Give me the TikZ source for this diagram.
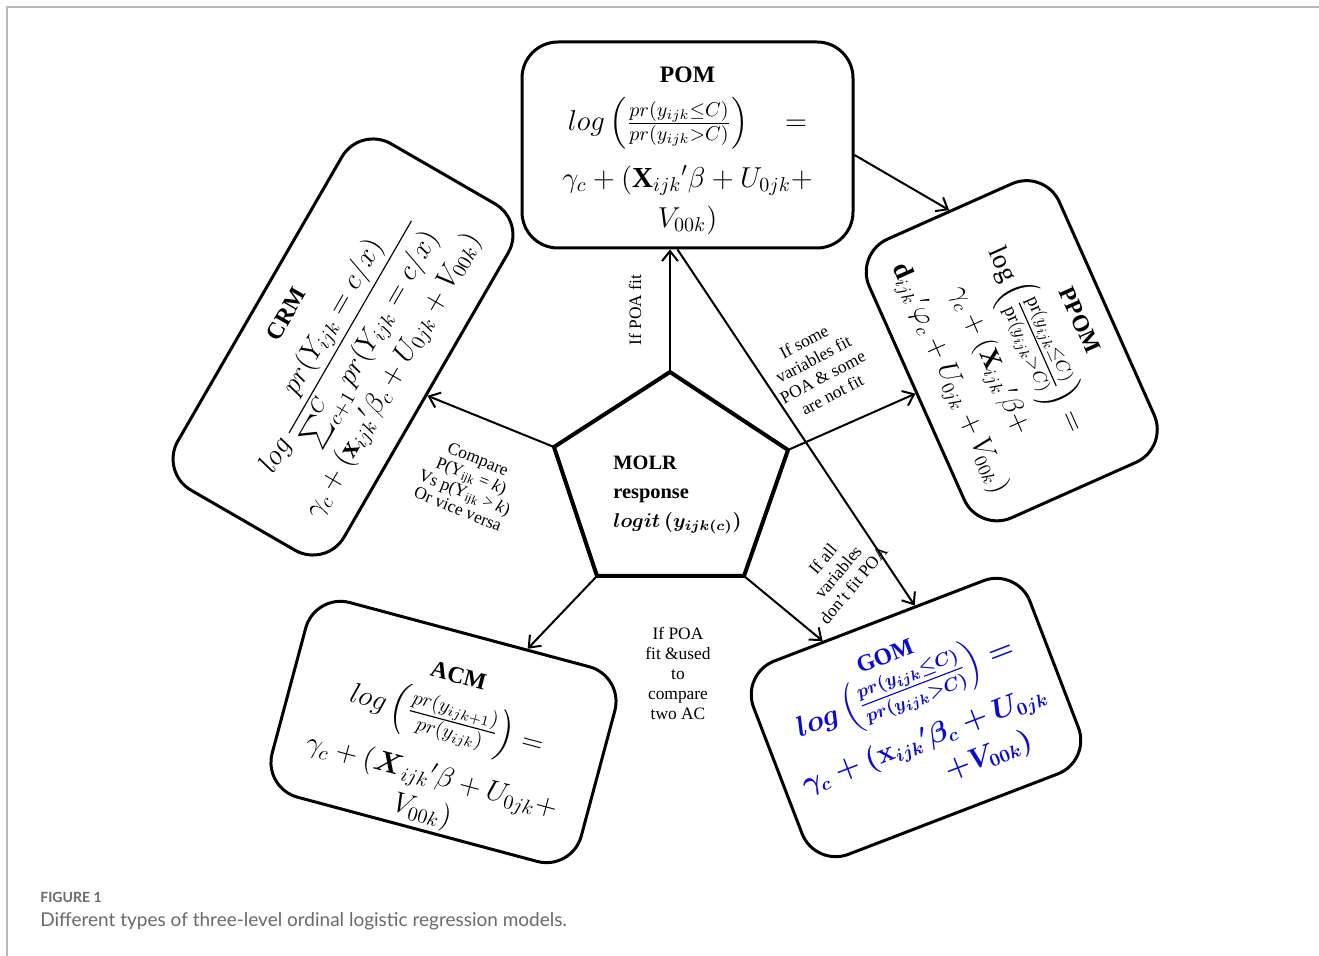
\documentclass[tikz,border=0pt]{standalone}
\usepackage{amsmath}
\usepackage{fontspec}
\setmainfont{Liberation Serif}
\newfontfamily\capfont{Lato}
\usetikzlibrary{arrows.meta,calc}
\definecolor{gomblue}{RGB}{10,10,215}
\definecolor{capgray}{RGB}{105,105,105}
\definecolor{framegray}{RGB}{185,185,185}
\tikzset{
  modelbox/.style={draw, line width=1.5pt, rounded corners=18pt, align=center, inner sep=2pt,
    font=\fontsize{14.5}{20}\selectfont},
  arr/.style={line width=1pt, -{Straight Barb[length=5pt,width=8pt,line width=1pt]}},
  lbl/.style={align=center, inner sep=0pt, font=\fontsize{8.7}{10}\selectfont}
}
\newcommand{\ttlfont}{\fontsize{11.8}{14}\selectfont\bfseries}
\begin{document}
\begin{tikzpicture}[x=0.5pt,y=-0.5pt]
\useasboundingbox (0,0) rectangle (1319,956);
\draw[framegray, line width=0.6pt] (7,956) -- (7,7) -- (1319,7);

% model boxes
\node[modelbox, minimum width=165.5pt, minimum height=103pt] (pom) at (687.5,145)
 {{\ttlfont\rule{0pt}{13.5pt}POM}\\[4pt]
  $log\left(\frac{pr(y_{ijk}{\le}C)}{pr(y_{ijk}{>}C)}\right)\quad=$\\[7pt]
  $\gamma_c+(\mathbf{X}_{ijk}{}'\beta+U_{0jk}+$\\
  $V_{00k})$};

\node[modelbox, rotate=60, minimum width=200pt, minimum height=96pt, font=\fontsize{14}{20}\selectfont] (crm) at (343,347)
 {{\ttlfont CRM}\\[9pt]
  $log\,\dfrac{pr(Y_{ijk}=c/x)}{\sum_{c+1}^{C}pr(Y_{ijk}=c/x)}$\\[2pt]
  $\gamma_c+(\mathbf{x}_{ijk}{}'\beta_c+U_{0jk}+V_{00k})$};

\node[modelbox, rotate=-66, minimum width=152.5pt, minimum height=104pt, font=\fontsize{13.5}{22}\selectfont] (ppom) at (1011.75,350.75)
 {{\ttlfont PPOM}\\[2pt]
  $\mathrm{log}\left(\frac{\mathrm{pr}(y_{ijk}{\le}C)}{\mathrm{pr}(y_{ijk}{>}C)}\right)=$\\[3pt]
  $\gamma_c+(\mathbf{X}_{ijk}{}'\beta+$\\
  $\mathbf{d}_{ijk}{}'\varphi_c+U_{0jk}+V_{00k})$};

\node[modelbox, rotate=-15, minimum width=160pt, minimum height=91.5pt] (acm) at (443.5,732)
 {{\ttlfont\rule{0pt}{23pt}ACM}\\[3pt]
  $log\left(\frac{pr(y_{ijk+1})}{pr(y_{ijk})}\right)=$\\[8pt]
  $\gamma_c+(\boldsymbol{X}_{ijk}{}'\beta+U_{0jk}+$\\[-2pt]
  $V_{00k})$};

\node[modelbox, rotate=21, minimum width=148pt, minimum height=103.5pt, text=gomblue, font=\fontsize{13.5}{19}\selectfont\boldmath] (gom) at (916,717.5)
 {\hspace*{-7pt}{\ttlfont GOM}\\
  $log\left(\frac{pr(y_{ijk}{\le}C)}{pr(y_{ijk}{>}C)}\right)=$\\[6pt]
  $\gamma_c+(\mathbf{x}_{ijk}{}'\beta_c+U_{0jk}$\\
  \hspace*{4em}$+V_{00k})$};

% central pentagon
\coordinate (pT) at (670,372);
\coordinate (pUR) at (788,450);
\coordinate (pLR) at (744,576);
\coordinate (pLL) at (597,576);
\coordinate (pUL) at (554,447);
\node[align=left, anchor=west, inner sep=0pt, font=\fontsize{10.2}{14.5}\selectfont\bfseries] (molr) at (613,495)
 {MOLR\\response\\{\boldmath$logit\,(y_{ijk(c)})$}};

% connectors
\draw[arr] (pT) -- (pT |- pom.south);
\draw[arr] (pUL) -- (crm.south);
\draw[arr] (pUR) -- (ppom.south);
\draw[arr] (pLR) -- ($(gom.north)!0.4!(gom.north west)$);
\draw[arr] (pLL) -- ($(acm.north)!0.37!(acm.north east)$);
\draw[arr] ($(pom.east)+(0,10)$) -- (ppom.west);
\draw[arr] ($(pom.south)+(-10,0)$) -- ($(gom.north)!0.26!(gom.north east)$);

\draw[line width=2pt, line join=miter] (pT) -- (pUR) -- (pLR) -- (pLL) -- (pUL) -- cycle;

% labels
\node[lbl, rotate=90] (l1) at (635,310) {If POA fit};
\node[lbl, rotate=-22, font=\fontsize{8.7}{9}\selectfont] (l2) at (468,484)
 {Compare\\P(Y\textsubscript{ijk} = \textit{k})\\Vs p(Y\textsubscript{ijk} > \textit{k})\\Or vice versa};
\node[lbl, rotate=28] (l3) at (818,368) {If some\\variables fit\\POA \& some\\are not fit};
\node[lbl, rotate=50] (l4) at (838,572) {If all\\variables\\don't fit POA};
\node[lbl] (l5) at (678,673) {If POA\\fit \&used\\to\\compare\\two AC};

% caption
\node[anchor=west, inner sep=0pt, text=capgray, font=\capfont\fontsize{7}{8}\selectfont\bfseries] (fig) at (40,897) {FIGURE 1};
\node[anchor=west, inner sep=0pt, text=capgray, font=\capfont\fontsize{9.5}{11}\selectfont] (cap) at (40,921) {Different types of three-level ordinal logistic regression models.};
\end{tikzpicture}
\end{document}
